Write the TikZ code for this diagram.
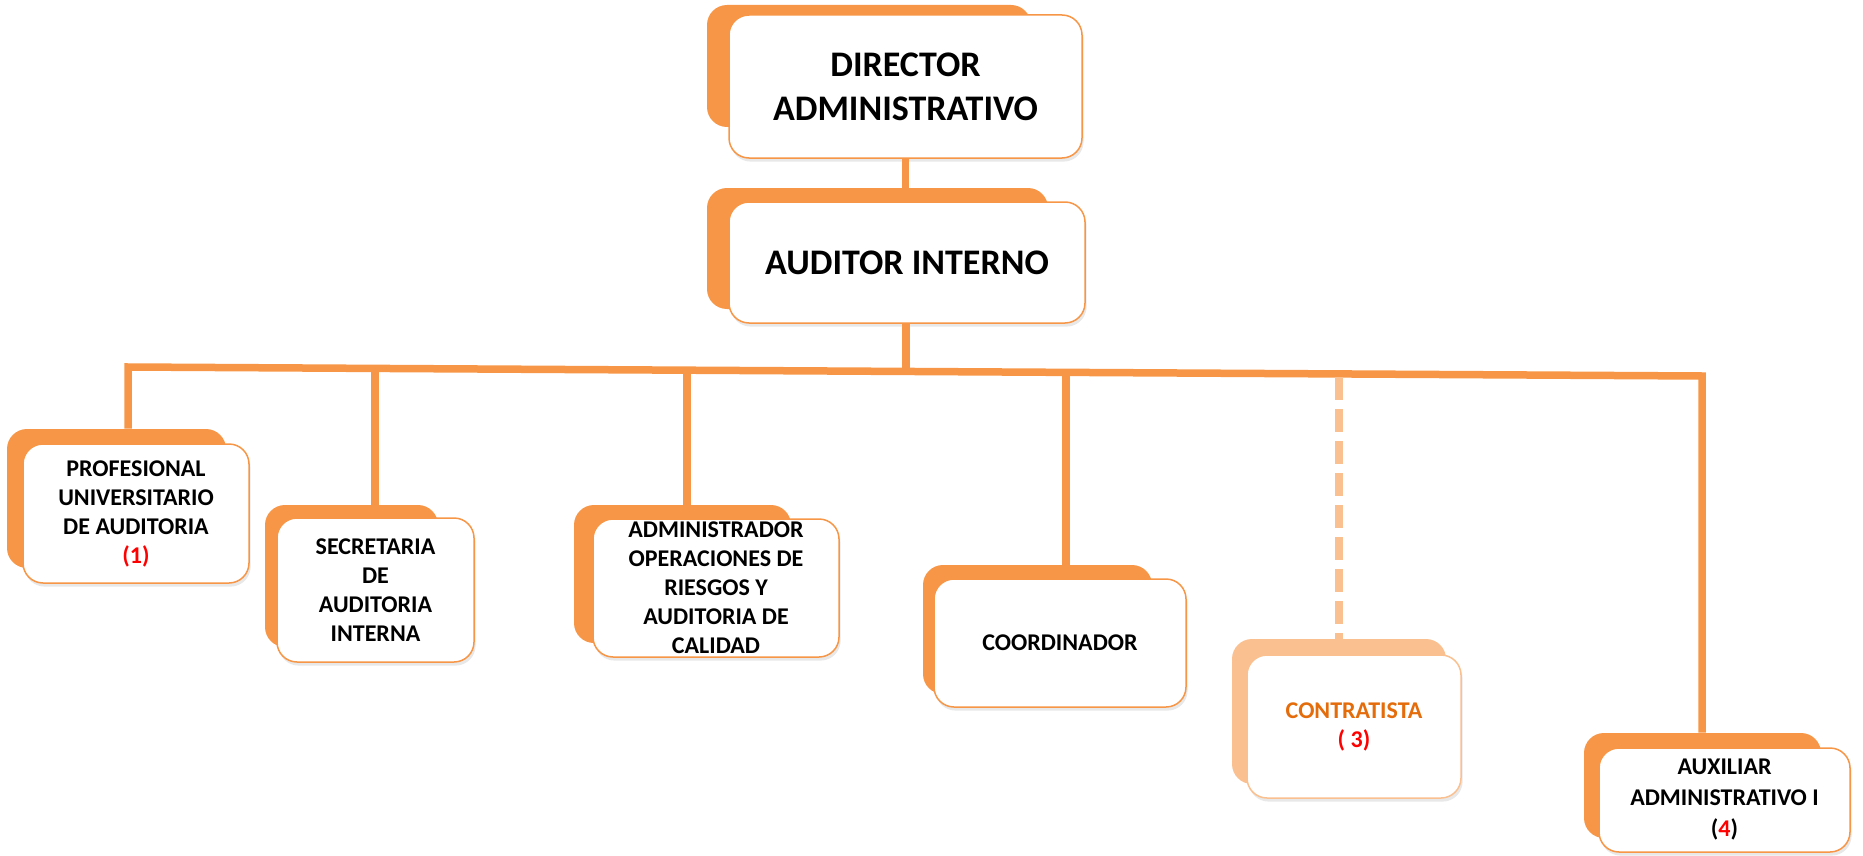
\documentclass[tikz,border=0pt]{standalone}
\usepackage{fontspec}
\setmainfont{Carlito}
\usetikzlibrary{shadows}
\definecolor{org}{HTML}{F79646}
\definecolor{orglt}{HTML}{FAC090}
\definecolor{orgtxt}{HTML}{E46C0A}
\definecolor{redtxt}{HTML}{FF0000}
\tikzset{
  backbox/.style={fill=org, draw=none, rounded corners=10pt, inner sep=0pt},
  backlt/.style={backbox, fill=orglt},
  frontbox/.style={fill=white, draw=org, line width=0.75pt, rounded corners=10pt, inner sep=0pt,
    align=center, font=\bfseries\fontsize{12}{14.5}\selectfont,
    drop shadow={shadow xshift=0.8pt, shadow yshift=-1.8pt, opacity=0.18}},
  frontlt/.style={frontbox, draw=orglt},
  bigbox/.style={frontbox, font=\bfseries\fontsize{18}{22}\selectfont},
  conn/.style={draw=org, line width=3.75pt, line join=miter},
  dconn/.style={draw=orglt, line width=3.75pt, dash pattern=on 11.5pt off 4.5pt},
}
\begin{document}
\begin{tikzpicture}[x=0.5pt,y=-0.5pt]
\useasboundingbox (0,0) rectangle (1863,856);

% top boxes
\node[backbox, minimum width=162pt, minimum height=61pt] (dir-s) at (869,66) {};
\node[bigbox, minimum width=176.5pt, minimum height=71.5pt] (dir) at (905.5,86.5) {DIRECTOR\\ADMINISTRATIVO};
\node[backbox, minimum width=170.5pt, minimum height=60.5pt] (aud-s) at (877.5,248.5) {};
\node[bigbox, minimum width=178pt, minimum height=60.5pt] (aud) at (907,262.5) {AUDITOR INTERNO};

% lower boxes
\node[backbox, minimum width=109.5pt, minimum height=69.5pt] (prof-s) at (116.5,498.5) {};
\node[frontbox, minimum width=113pt, minimum height=69.5pt] (prof) at (136,513.5)
  {PROFESIONAL\\UNIVERSITARIO\\DE AUDITORIA\\{\color{redtxt}(1)}};

\node[backbox, minimum width=86.5pt, minimum height=71pt] (sec-s) at (351.5,576) {};
\node[frontbox, minimum width=98.5pt, minimum height=72pt] (sec) at (375.5,590)
  {SECRETARIA\\DE\\AUDITORIA\\INTERNA};

\node[backbox, minimum width=108.5pt, minimum height=69pt] (adm-s) at (682.5,574) {};
\node[frontbox, minimum width=123pt, minimum height=69pt] (adm) at (716,588)
  {ADMINISTRADOR\\OPERACIONES DE\\RIESGOS Y\\AUDITORIA DE\\CALIDAD};

\node[backbox, minimum width=114.5pt, minimum height=64.5pt] (coord-s) at (1037.5,629.5) {};
\node[frontbox, minimum width=126pt, minimum height=64pt] (coord) at (1060,643) {COORDINADOR};

\node[backlt, minimum width=107pt, minimum height=72.5pt] (contr-s) at (1339,711.5) {};
\node[frontlt, minimum width=107pt, minimum height=71.5pt, text=orgtxt] (contr) at (1354,726.5)
  {CONTRATISTA\\{\color{redtxt}( 3)}};

\node[backbox, minimum width=118.5pt, minimum height=52.5pt] (aux-s) at (1702.5,785.5) {};
\node[frontbox, minimum width=125.5pt, minimum height=52pt, font=\bfseries\fontsize{12}{15.5}\selectfont] (aux) at (1724.5,800)
  {AUXILIAR\\ADMINISTRATIVO I\\({\color{redtxt}4})};

% bus coordinates
\coordinate (busL) at (128,367);
\coordinate (busR) at (1702,376);
\coordinate (dA) at (906,371.4);
\coordinate (d2) at (375,368.4);
\coordinate (d3) at (687,370.2);
\coordinate (d4) at (1066,372.4);
\coordinate (d5) at (1339,377);

% connectors
\draw[conn] (dir.south) -- (dir.south |- aud-s.north);
\draw[conn] (dA |- aud.south) -- (dA);
\draw[conn] (prof-s.north -| busL) -- (busL) -- (busR) -- (aux-s.north -| busR);
\draw[conn] (d2) -- (d2 |- sec-s.north);
\draw[conn] (d3) -- (d3 |- adm-s.north);
\draw[conn] (d4) -- (d4 |- coord-s.north);
\draw[dconn] (d5) -- (d5 |- contr-s.north);
\end{tikzpicture}
\end{document}
